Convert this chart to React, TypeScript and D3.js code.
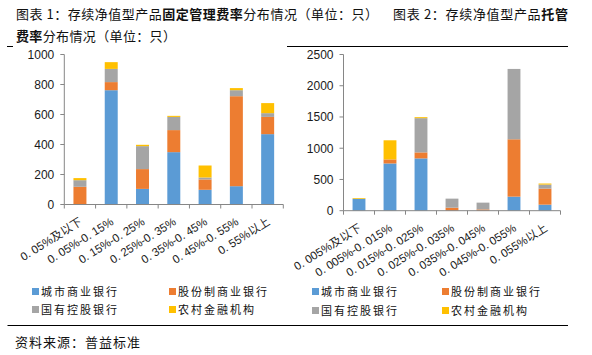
import React from "react";
import * as d3 from "d3";

const seriesNames = ["城市商业银行", "股份制商业银行", "国有控股银行", "农村金融机构"];
const colors = ["#5B9BD5", "#ED7D31", "#A5A5A5", "#FFC000"];

const leftCats = ["0. 05%及以下", "0. 05%-0. 15%", "0. 15%-0. 25%", "0. 25%-0. 35%", "0. 35%-0. 45%", "0. 45%-0. 55%", "0. 55%以上"];
const leftCity = [0, 762, 104, 349, 98, 122, 469];
const leftJoint = [118, 54, 132, 147, 69, 600, 115];
const leftState = [44, 88, 153, 88, 13, 40, 25];
const leftRural = [14, 45, 9, 7, 80, 14, 67];
const leftTicks = [0, 200, 400, 600, 800, 1000];

const rightCats = ["0. 005%及以下", "0. 005%-0. 015%", "0. 015%-0. 025%", "0. 025%-0. 035%", "0. 035%-0. 045%", "0. 045%-0. 055%", "0. 055%以上"];
const rightCity = [190, 756, 837, 0, 0, 225, 97];
const rightJoint = [0, 65, 96, 48, 21, 918, 257];
const rightState = [0, 0, 548, 145, 108, 1126, 64];
const rightRural = [12, 306, 16, 0, 0, 0, 17];
const rightTicks = [0, 500, 1000, 1500, 2000, 2500];

const CJK = "'Noto Sans CJK SC', sans-serif";
const LAT = "'Liberation Sans', Arial, 'Noto Sans CJK SC', sans-serif";
const AXIS = "#868686";

type PanelProps = {
  cats: string[];
  series: number[][];
  ticks: number[];
  x0: number; x1: number; y0: number; y1: number;
  maxV: number;
};

function Panel({ cats, series, ticks, x0, x1, y0, y1, maxV }: PanelProps) {
  const x = d3.scaleBand<string>().domain(cats).range([x0, x1]).paddingInner(0.585).paddingOuter(0.2925);
  const y = d3.scaleLinear().domain([0, maxV]).range([y0, y1]);
  const rows = cats.map((c, i) => {
    const o: any = { cat: c };
    seriesNames.forEach((s, k) => (o[s] = series[k][i]));
    return o;
  });
  const stacked = d3.stack<any>().keys(seriesNames)(rows);
  const step = (x1 - x0) / cats.length;
  const bounds = d3.range(cats.length + 1).map((i) => x0 + i * step);
  return (
    <g>
      {stacked.map((layer, k) => (
        <g key={k} fill={colors[k]}>
          {layer.map((d, i) =>
            d[1] - d[0] > 0 ? (
              <rect key={i} x={x(cats[i])} width={x.bandwidth()} y={y(d[1])} height={y(d[0]) - y(d[1])} />
            ) : null
          )}
        </g>
      ))}
      <line x1={x0} x2={x0} y1={y1} y2={y0} stroke={AXIS} strokeWidth={1} />
      <line x1={x0} x2={x1} y1={y0} y2={y0} stroke={AXIS} strokeWidth={1} />
      {ticks.map((t) => (
        <g key={t}>
          <line x1={x0 - 4} x2={x0} y1={y(t)} y2={y(t)} stroke={AXIS} />
          <text x={x0 - 10} y={y(t)} dy="0.36em" textAnchor="end" fontSize={12} fontFamily={LAT} fill="#1a1a1a">
            {t}
          </text>
        </g>
      ))}
      {bounds.map((b, i) => (
        <line key={i} x1={b} x2={b} y1={y0} y2={y0 + 4} stroke={AXIS} />
      ))}
      {cats.map((c) => {
        const cx = (x(c) as number) + x.bandwidth() / 2;
        return (
          <text key={c} transform={`translate(${cx + 1},${y0 + 16}) rotate(-32)`} textAnchor="end" dy="0.35em" fontSize={11.5} fontFamily={LAT} fill="#1a1a1a">
            {c}
          </text>
        );
      })}
    </g>
  );
}

function Legend({ x0, x1, y0, y1 }: { x0: number; x1: number; y0: number; y1: number }) {
  const pos = [[x0, y0], [x1, y0], [x0, y1], [x1, y1]];
  return (
    <g>
      {seriesNames.map((s, k) => (
        <g key={s}>
          <rect x={pos[k][0]} y={pos[k][1] - 4} width={7} height={7} fill={colors[k]} />
          <text x={pos[k][0] + 9} y={pos[k][1]} dy="0.36em" fontSize={11} letterSpacing={2} fontFamily={CJK} fill="#111">
            {s}
          </text>
        </g>
      ))}
    </g>
  );
}

export default function App() {
  return (
    <svg width={592} height={355} style={{ position: "absolute", left: 0, top: 0, display: "block" }}>
      <rect width={592} height={355} fill="#fff" />
      <text x={16} y={19} fontSize={13} fontFamily={CJK} fill="#111" textLength={362} lengthAdjust="spacing">
        图表 1：存续净值型产品<tspan fontWeight="bold">固定管理费率</tspan>分布情况（单位：只）
      </text>
      <text x={393} y={19} fontSize={13} fontFamily={CJK} fill="#111" textLength={175} lengthAdjust="spacing">
        图表 2：存续净值型产品<tspan fontWeight="bold">托管</tspan>
      </text>
      <text x={16} y={41} fontSize={13} fontFamily={CJK} fill="#111" textLength={160} lengthAdjust="spacing">
        <tspan fontWeight="bold">费率</tspan>分布情况（单位：只）
      </text>
      <line x1={7} x2={13} y1={46.5} y2={46.5} stroke="#000" />
      <line x1={287} x2={568} y1={46.5} y2={46.5} stroke="#000" />

      <Panel cats={leftCats} series={[leftCity, leftJoint, leftState, leftRural]} ticks={leftTicks} x0={64.3} x1={283.3} y0={204.5} y1={54.5} maxV={1000} />
      <Panel cats={rightCats} series={[rightCity, rightJoint, rightState, rightRural]} ticks={rightTicks} x0={343.5} x1={560.5} y0={210.7} y1={54.5} maxV={2500} />

      <Legend x0={32} x1={169} y0={292} y1={310} />
      <Legend x0={312} x1={442} y0={292} y1={311} />

      <line x1={7.5} x2={568} y1={325.5} y2={325.5} stroke="#000" />
      <text x={15} y={347} fontSize={13} fontFamily={CJK} fill="#111" textLength={125} lengthAdjust="spacing">
        资料来源：普益标准
      </text>
    </svg>
  );
}
